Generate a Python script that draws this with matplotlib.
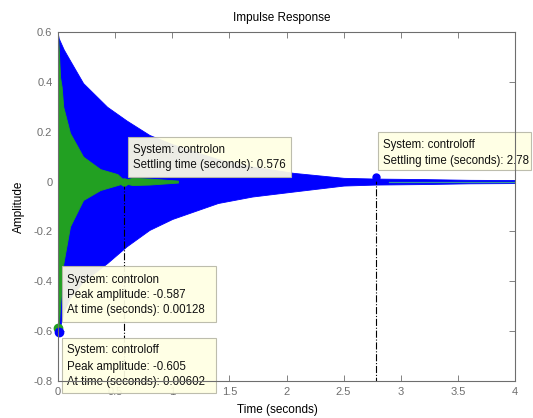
import matplotlib
matplotlib.use("Agg")
import matplotlib.pyplot as plt
from matplotlib.patches import Rectangle

plt.rcParams['font.family'] = ['Liberation Sans', 'DejaVu Sans']

# ---- data ----
# controloff (blue) response envelope
t_off = [0.0, 0.006, 0.05, 0.10, 0.22, 0.43, 0.60, 0.80, 1.00, 1.40, 1.70, 2.06, 2.50, 2.78, 3.20, 3.60, 4.00]
off_upper = [0.59, 0.575, 0.53, 0.49, 0.395, 0.30, 0.245, 0.187, 0.15, 0.09, 0.06, 0.035, 0.015, 0.012, 0.010, 0.007, 0.006]
off_lower = [-0.58, -0.605, -0.52, -0.47, -0.40, -0.327, -0.26, -0.194, -0.15, -0.086, -0.06, -0.04, -0.016, -0.012, -0.010, -0.007, -0.006]

# controlon (green) response envelope
t_on = [0.0, 0.00128, 0.01, 0.018, 0.032, 0.046, 0.105, 0.22, 0.37, 0.52, 0.576, 0.65, 0.80, 1.05]
on_upper = [0.60, 0.58, 0.50, 0.42, 0.38, 0.30, 0.195, 0.10, 0.05, 0.03, 0.006, 0.015, 0.012, 0.004]
on_lower = [-0.55, -0.587, -0.56, -0.50, -0.42, -0.33, -0.18, -0.074, -0.034, -0.014, -0.006, -0.014, -0.012, -0.004]

# characteristic points
peak_on = (0.00128, -0.587)
peak_off = (0.00602, -0.605)
settle_on = (0.576, 0.0)
settle_off = (2.78, 0.018)

xticks = [0, 0.5, 1, 1.5, 2, 2.5, 3, 3.5, 4]
xtick_labels = ['0', '0.5', '1', '1.5', '2', '2.5', '3', '3.5', '4']
yticks = [-0.8, -0.6, -0.4, -0.2, 0, 0.2, 0.4, 0.6]
ytick_labels = ['-0.8', '-0.6', '-0.4', '-0.2', '0', '0.2', '0.4', '0.6']

tip_on_settle = ["System: controlon", "Settling time (seconds): 0.576"]
tip_off_settle = ["System: controloff", "Settling time (seconds): 2.78"]
tip_on_peak = ["System: controlon", "Peak amplitude: -0.587", "At time (seconds): 0.00128"]
tip_off_peak = ["System: controloff", "Peak amplitude: -0.605", "At time (seconds): 0.00602"]

BLUE = '#0000ff'
GREEN = '#22a022'
GRAY = '#6e6e6e'

fig = plt.figure(figsize=(5.33, 4.18), dpi=100)
ax = fig.add_axes([58/533, 37/418, 457/533, 349/418])

ax.fill_between(t_off, off_lower, off_upper, color=BLUE, lw=0.6, edgecolor=BLUE, zorder=2)
ax.plot([2.9, 4.0], [0, 0], color='#3a9a9a', lw=0.9, zorder=2.1)
ax.fill_between(t_on, on_lower, on_upper, color=GREEN, lw=0.6, edgecolor=GREEN, zorder=2.2)

# settling lines
for (tx, ty) in (settle_on, settle_off):
    ax.plot([tx, tx], [ty, -0.8], color='black', ls='-.', lw=0.8, zorder=2.5)

ax.plot(*settle_on, 'o', color=GREEN, ms=5, zorder=3)
ax.plot(*settle_off, 'o', color=BLUE, ms=5, zorder=3)
ax.plot(*peak_on, 'o', color=GREEN, ms=6, zorder=3, clip_on=False)
ax.plot(*peak_off, 'o', color=BLUE, ms=6, zorder=3.1, clip_on=False)

ax.set_xlim(0, 4)
ax.set_ylim(-0.8, 0.6)
ax.set_xticks(xticks)
ax.set_xticklabels(xtick_labels)
ax.set_yticks(yticks)
ax.set_yticklabels(ytick_labels)
ax.tick_params(direction='in', length=4, width=0.6, colors=GRAY, labelsize=8,
               top=True, right=True, pad=4)
for s in ax.spines.values():
    s.set_color(GRAY)
    s.set_linewidth(0.8)
    s.set_zorder(10)

ax.set_title('Impulse Response', fontsize=8.5, pad=8, x=0.49)
ax.set_xlabel('Time (seconds)', fontsize=8.5)
ax.xaxis.set_label_coords(0.481, -0.065)
ax.set_ylabel('Amplitude', fontsize=8.5, labelpad=6)


def tooltip(x0, x1, y0, y1, lines, tx, ty_list):
    r = Rectangle((x0, y0), x1 - x0, y1 - y0, facecolor='#ffffe3', edgecolor='#b8b8a8',
                  lw=0.8, alpha=0.93, zorder=5, clip_on=False)
    ax.add_patch(r)
    for line, ty in zip(lines, ty_list):
        ax.text(tx, ty, line, fontsize=8.3, color='#111111', va='center', ha='left',
                zorder=6, clip_on=False)


tooltip(0.613, 2.039, 0.018, 0.179, tip_on_settle, 0.656, [0.127, 0.066])
tooltip(2.80, 4.14, 0.047, 0.199, tip_off_settle, 2.845, [0.147, 0.083])
tooltip(0.035, 1.383, -0.563, -0.339, tip_on_peak, 0.079, [-0.395, -0.455, -0.515])
tooltip(0.035, 1.383, -0.849, -0.628, tip_off_peak, 0.079, [-0.675, -0.744, -0.803])

fig.savefig('out.png', dpi=100)
